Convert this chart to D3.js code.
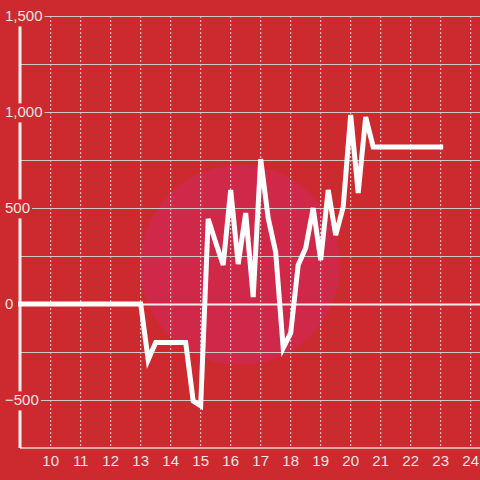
<!DOCTYPE html>
<html>
<head>
<meta charset="utf-8">
<script src="https://cdn.jsdelivr.net/npm/d3@7"></script>
<style>
  body { margin: 0; background: #cc2a2e; }
  text { font-family: "Liberation Sans", Arial, sans-serif; }
</style>
</head>
<body>
<div id="chart"></div>
<script>
// quarter-hour readings (only the points where the line changes direction)
var hours  = [9, 13, 13.25, 13.5, 14.5, 14.75, 15, 15.25, 15.5, 15.75, 16, 16.25, 16.5, 16.75, 17,
              17.25, 17.5, 17.75, 18, 18.25, 18.5, 18.75, 19, 19.25, 19.5, 19.75, 20, 20.25, 20.5, 20.75, 23];
var values = [0, 0, -290, -200, -200, -505, -530, 443, 320, 203, 594, 208, 474, 36, 755,
              448, 270, -229, -151, 203, 292, 500, 229, 594, 359, 505, 984, 578, 974, 818, 818];
var xTicks = [10, 11, 12, 13, 14, 15, 16, 17, 18, 19, 20, 21, 22, 23, 24];
var yGrid = [-500, -250, 0, 250, 500, 750, 1000, 1250, 1500];
var yLabels = [-500, 0, 500, 1000, 1500];

var width = 480, height = 480;
var margin = {top: 16, left: 20, right: 0, bottom: 32};
var bg = "#cc2a2e";

var svg = d3.select("#chart").append("svg")
  .attr("width", width)
  .attr("height", height);

svg.append("rect").attr("width", width).attr("height", height).attr("fill", bg);

var x = d3.scaleLinear().domain([8.977, 8.977 + 460 / 30]).range([margin.left, width - margin.right]);
var y = d3.scaleLinear().domain([-750, 1500]).range([height - margin.bottom, margin.top]);

// faint watermark disc
svg.append("circle")
  .attr("cx", 240).attr("cy", 265).attr("r", 100)
  .attr("fill", "#d0284c").attr("opacity", 0.85);

// vertical dashed grid
svg.append("g").selectAll("line")
  .data(xTicks).enter().append("line")
  .attr("x1", function(d){ return x(d); })
  .attr("x2", function(d){ return x(d); })
  .attr("y1", y(1500)).attr("y2", y(-750))
  .attr("stroke", "#e6d6d6")
  .attr("stroke-width", 1)
  .attr("stroke-dasharray", "2,2");

// horizontal grid
svg.append("g").selectAll("line")
  .data(yGrid).enter().append("line")
  .attr("x1", margin.left).attr("x2", width)
  .attr("y1", function(d){ return Math.round(y(d)) + 0.5; })
  .attr("y2", function(d){ return Math.round(y(d)) + 0.5; })
  .attr("stroke", function(d){ return d === 0 ? "#f2eaea" : "#d2c8c8"; })
  .attr("stroke-width", function(d){ return d === 0 ? 2 : 1; });

// bottom axis line
svg.append("line")
  .attr("x1", margin.left).attr("x2", width)
  .attr("y1", y(-750)).attr("y2", y(-750))
  .attr("stroke", "#e0d4d4").attr("stroke-width", 1.5);

// left axis line
svg.append("line")
  .attr("x1", margin.left).attr("x2", margin.left)
  .attr("y1", y(1500)).attr("y2", y(-750))
  .attr("stroke", "#f2eeee").attr("stroke-width", 3);

// data line
var line = d3.line()
  .x(function(d, i){ return x(hours[i]); })
  .y(function(d){ return y(d); });

svg.append("path")
  .datum(values)
  .attr("d", line)
  .attr("fill", "none")
  .attr("stroke", "#ffffff")
  .attr("stroke-width", 5)
  .attr("stroke-linejoin", "miter")
  .attr("stroke-linecap", "square");

// y labels with background boxes
var yl = svg.append("g");
yLabels.forEach(function(v){
  var g = yl.append("g");
  var t = g.append("text")
    .attr("x", 5)
    .attr("y", y(v))
    .attr("dy", "0.36em")
    .attr("font-size", 15)
    .attr("fill", "#f3e4e4")
    .text(d3.format(",")(v));
  var b = t.node().getBBox();
  g.insert("rect", "text")
    .attr("x", b.x - 2).attr("y", b.y)
    .attr("width", b.width + 4).attr("height", b.height + 2)
    .attr("fill", bg);
});

// x labels
svg.append("g").selectAll("text")
  .data(xTicks).enter().append("text")
  .attr("x", function(d){ return x(d); })
  .attr("y", 466)
  .attr("text-anchor", "middle")
  .attr("font-size", 15)
  .attr("fill", "#f3e4e4")
  .text(function(d){ return d; });
</script>
</body>
</html>
